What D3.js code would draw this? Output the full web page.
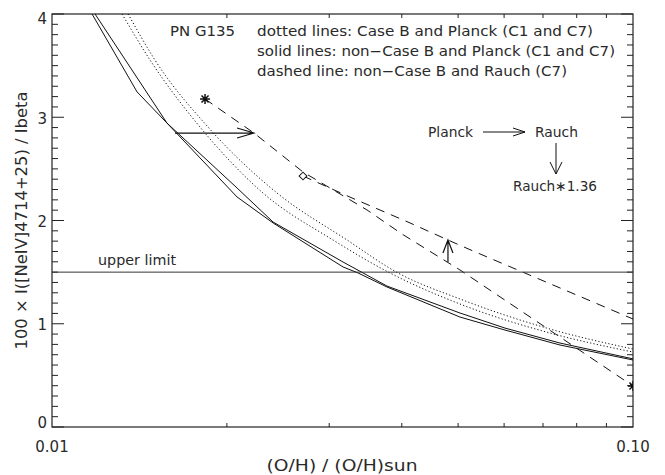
<!DOCTYPE html>
<html>
<head>
  <meta charset="utf-8">
  <title>PN G135 NeIV</title>
  <script src="https://d3js.org/d3.v7.min.js"></script>
  <style>
    body { margin: 0; background: #fff; }
    text { font-family: "DejaVu Sans", sans-serif; fill: #2a2a2a; }
  </style>
</head>
<body>
  <div id="vis"></div>
<script>
  // axis ranges and ticks
  var xDomain = [0.01, 0.1];
  var yDomain = [0, 4];
  var xMinorTicks = [0.02, 0.03, 0.04, 0.05, 0.06, 0.07, 0.08, 0.09];
  var xLabelValues = [0.01, 0.1];
  var xLabelText = ["0.01", "0.10"];
  var yMajorTicks = [0, 1, 2, 3, 4];

  // solid lines: non-Case B and Planck (C1, C7)
  var solidC1 = [[0.01172, 4.00], [0.01401, 3.245], [0.01577, 2.944], [0.02082, 2.228], [0.02402, 1.976],
    [0.03169, 1.550], [0.03363, 1.492], [0.03772, 1.356], [0.05037, 1.065], [0.06022, 0.939],
    [0.07488, 0.794], [0.1, 0.649]];
  var solidC7 = [[0.01186, 4.00], [0.01577, 2.944], [0.02082, 2.315], [0.02402, 1.985], [0.03169, 1.598],
    [0.03772, 1.365], [0.05037, 1.104], [0.06022, 0.958], [0.07488, 0.813], [0.1, 0.660]];

  // dotted lines: Case B and Planck (C1, C7)
  var dottedC1 = [[0.01352, 4.00], [0.01504, 3.554], [0.01856, 2.905], [0.02440, 2.266], [0.03220, 1.811],
    [0.03940, 1.492], [0.05037, 1.240], [0.07197, 0.949], [0.1, 0.755]];
  var dottedC7 = [[0.01320, 4.00], [0.01475, 3.554], [0.01798, 2.905], [0.02308, 2.266], [0.03046, 1.811],
    [0.03817, 1.492], [0.05037, 1.191], [0.07197, 0.910], [0.1, 0.726]];

  // dashed lines: non-Case B and Rauch (C7), and Rauch*1.36
  var dashedRauch = [[0.01834, 3.177], [0.02227, 2.847], [0.02704, 2.470], [0.03485, 2.102], [0.04003, 1.869],
    [0.05037, 1.521], [0.1, 0.397]];
  var dashedRauch136 = [[0.02704, 2.431], [0.03284, 2.218], [0.04100, 1.985], [0.04803, 1.811],
    [0.05304, 1.705], [0.1, 1.046]];

  var starPoints = [[0.01834, 3.177], [0.1, 0.397]];
  var diamondPoint = [0.02704, 2.431];
  var upperLimit = 1.5;
  var planckArrow = [[0.01628, 2.847], [0.02227, 2.847]];
  var rauchArrow = [[0.04803, 1.598], [0.04803, 1.811]];

  var W = 665, H = 475;
  var margin = { left: 52, right: 32, top: 14, bottom: 48 };

  var svg = d3.select('#vis').append('svg')
    .attr('width', W).attr('height', H);

  var x = d3.scaleLog().domain(xDomain).range([margin.left, W - margin.right]);
  var y = d3.scaleLinear().domain(yDomain).range([H - margin.bottom, margin.top]);
  var x0 = x.range()[0], x1 = x.range()[1], y0 = y.range()[0], y1 = y.range()[1];

  svg.append('clipPath').attr('id', 'clip')
    .append('rect').attr('x', x0).attr('y', y1).attr('width', x1 - x0).attr('height', y0 - y1);

  // frame
  svg.append('rect')
    .attr('x', x0).attr('y', y1).attr('width', x1 - x0).attr('height', y0 - y1)
    .attr('fill', 'none').attr('stroke', '#222').attr('stroke-width', 1.2);

  // ticks (inward on all sides)
  var ticks = svg.append('g').attr('stroke', '#222').attr('stroke-width', 1);
  var yMinor = d3.range(1, 40).map(function (i) { return i / 10; }).filter(function (v) { return v % 1 !== 0; });
  yMajorTicks.forEach(function (v) {
    ticks.append('line').attr('x1', x0).attr('x2', x0 + 12).attr('y1', y(v)).attr('y2', y(v));
    ticks.append('line').attr('x1', x1).attr('x2', x1 - 12).attr('y1', y(v)).attr('y2', y(v));
  });
  yMinor.forEach(function (v) {
    ticks.append('line').attr('x1', x0).attr('x2', x0 + 6).attr('y1', y(v)).attr('y2', y(v));
    ticks.append('line').attr('x1', x1).attr('x2', x1 - 6).attr('y1', y(v)).attr('y2', y(v));
  });
  xMinorTicks.forEach(function (v) {
    ticks.append('line').attr('x1', x(v)).attr('x2', x(v)).attr('y1', y0).attr('y2', y0 - 4);
    ticks.append('line').attr('x1', x(v)).attr('x2', x(v)).attr('y1', y1).attr('y2', y1 + 4);
  });

  // tick labels
  yMajorTicks.forEach(function (v) {
    var ty = Math.min(Math.max(y(v) + 1, y1 + 5), y0 - 4);
    svg.append('text').attr('x', x0 - 5).attr('y', ty).attr('dy', '0.36em')
      .attr('text-anchor', 'end').attr('font-size', 15).text(v);
  });
  xLabelValues.forEach(function (v, i) {
    svg.append('text').attr('x', x(v)).attr('y', 452)
      .attr('text-anchor', 'middle').attr('font-size', 15).text(xLabelText[i]);
  });

  // axis titles
  svg.append('text').attr('x', (x0 + x1) / 2 - 0.5).attr('y', 471)
    .attr('text-anchor', 'middle').attr('font-size', 15)
    .attr('textLength', 151).attr('lengthAdjust', 'spacingAndGlyphs')
    .text('(O/H) / (O/H)sun');
  svg.append('text')
    .attr('transform', 'translate(27,' + ((y0 + y1) / 2) + ') rotate(-90)')
    .attr('text-anchor', 'middle').attr('font-size', 15)
    .attr('textLength', 258).attr('lengthAdjust', 'spacingAndGlyphs')
    .text('100 \u00d7 I([NeIV]4714+25) / Ibeta');

  var line = d3.line().x(function (d) { return x(d[0]); }).y(function (d) { return y(d[1]); });
  var smooth = d3.line().curve(d3.curveMonotoneX)
    .x(function (d) { return x(d[0]); }).y(function (d) { return y(d[1]); });
  var plot = svg.append('g').attr('clip-path', 'url(#clip)')
    .attr('fill', 'none').attr('stroke', '#111').attr('stroke-width', 1);

  [solidC1, solidC7].forEach(function (d) {
    plot.append('path').attr('d', line(d));
  });
  [dottedC1, dottedC7].forEach(function (d) {
    plot.append('path').attr('d', smooth(d)).attr('stroke-dasharray', '1.2,2.2');
  });
  [dashedRauch, dashedRauch136].forEach(function (d) {
    plot.append('path').attr('d', line(d)).attr('stroke-dasharray', '9,7');
  });

  // upper limit
  plot.append('path').attr('d', line([[xDomain[0], upperLimit], [xDomain[1], upperLimit]]))
    .attr('stroke', '#333');
  svg.append('text').attr('x', 98).attr('y', 265).attr('font-size', 14)
    .attr('textLength', 78).attr('lengthAdjust', 'spacingAndGlyphs').text('upper limit');

  function arrowPath(ax, ay, bx, by, L, w) {
    var dx = bx - ax, dy = by - ay, len = Math.hypot(dx, dy);
    var ux = dx / len, uy = dy / len;
    var hx = bx - ux * L, hy = by - uy * L;
    return 'M' + ax + ',' + ay + 'L' + bx + ',' + by +
      'M' + (hx - uy * w) + ',' + (hy + ux * w) + 'L' + bx + ',' + by +
      'L' + (hx + uy * w) + ',' + (hy - ux * w);
  }

  plot.append('path').attr('d', arrowPath(x(planckArrow[0][0]), y(planckArrow[0][1]),
    x(planckArrow[1][0]), y(planckArrow[1][1]), 17, 5)).attr('stroke-width', 1.2);
  plot.append('path').attr('d', arrowPath(x(rauchArrow[0][0]), y(rauchArrow[0][1]),
    x(rauchArrow[1][0]), y(rauchArrow[1][1]), 13, 5)).attr('stroke-width', 1.2);

  // markers
  function starPath(r) {
    var s = r * Math.SQRT1_2;
    return 'M' + (-r) + ',0L' + r + ',0M0,' + (-r) + 'L0,' + r +
      'M' + (-s) + ',' + (-s) + 'L' + s + ',' + s + 'M' + (-s) + ',' + s + 'L' + s + ',' + (-s);
  }
  starPoints.forEach(function (p) {
    plot.append('path').attr('d', starPath(5))
      .attr('transform', 'translate(' + x(p[0]) + ',' + y(p[1]) + ')')
      .attr('stroke-width', 1.5);
  });
  plot.append('path')
    .attr('d', d3.symbol(d3.symbolSquare, 30)())
    .attr('transform', 'translate(' + x(diamondPoint[0]) + ',' + y(diamondPoint[1]) + ') rotate(45)')
    .attr('fill', '#fff');

  // annotations
  var notes = svg.append('g').attr('font-size', 14);
  notes.append('text').attr('x', 170).attr('y', 36).attr('textLength', 65)
    .attr('lengthAdjust', 'spacingAndGlyphs').text('PN G135');
  notes.append('text').attr('x', 257).attr('y', 36).attr('textLength', 336)
    .attr('lengthAdjust', 'spacingAndGlyphs').text('dotted lines: Case B and Planck (C1 and C7)');
  notes.append('text').attr('x', 257).attr('y', 56).attr('textLength', 358)
    .attr('lengthAdjust', 'spacingAndGlyphs').text('solid lines: non\u2212Case B and Planck (C1 and C7)');
  notes.append('text').attr('x', 257).attr('y', 76).attr('textLength', 310)
    .attr('lengthAdjust', 'spacingAndGlyphs').text('dashed line: non\u2212Case B and Rauch (C7)');
  notes.append('text').attr('x', 428).attr('y', 137).attr('textLength', 45)
    .attr('lengthAdjust', 'spacingAndGlyphs').text('Planck');
  notes.append('text').attr('x', 535).attr('y', 137).attr('textLength', 43)
    .attr('lengthAdjust', 'spacingAndGlyphs').text('Rauch');
  notes.append('text').attr('x', 513).attr('y', 191).attr('textLength', 84)
    .attr('lengthAdjust', 'spacingAndGlyphs').text('Rauch\u22171.36');

  svg.append('path').attr('d', arrowPath(483, 132, 525, 132, 12, 4))
    .attr('fill', 'none').attr('stroke', '#111').attr('stroke-width', 1);
  svg.append('path').attr('d', arrowPath(556, 143, 556, 174, 12, 6))
    .attr('fill', 'none').attr('stroke', '#111').attr('stroke-width', 1);
</script>
</body>
</html>
